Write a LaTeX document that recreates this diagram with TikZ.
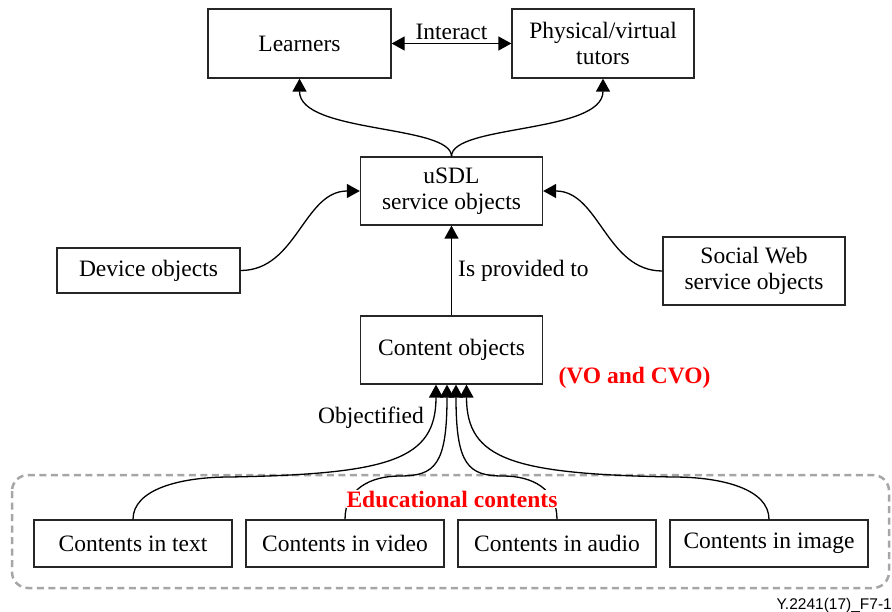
\documentclass[tikz,border=0pt]{standalone}
\usepackage{fontspec}
\setmainfont{Liberation Serif}
\newfontfamily\figsans{Liberation Sans}
\usetikzlibrary{arrows.meta}

\begin{document}
\begin{tikzpicture}[x=1pt,y=-1pt,
  box/.style={draw=black!85,line width=1.3pt,align=center,inner sep=0pt,
    minimum width=182pt,minimum height=68pt,font=\fontsize{23.5}{26}\selectfont},
  wide/.style={minimum width=198pt,minimum height=47pt},
  arr/.style={line width=1.3pt,-{Triangle[length=13pt,width=14pt]}},
  lbl/.style={inner sep=0pt,font=\fontsize{23.5}{26}\selectfont},
  redlbl/.style={inner sep=0pt,text=red,font=\fontsize{23.5}{26}\selectfont\bfseries}]

 \useasboundingbox (0,0) rectangle (892,612);

 % frame round the contents
 \draw[gray!70,line width=2.5pt,dash pattern=on 7pt off 4.5pt,rounded corners=16pt]
   (12,475) rectangle (889,588);

 \node[box,minimum width=183pt,minimum height=69pt] (learners) at (299.5,43.5) {Learners};
 \node[box,minimum height=69pt] (tutors) at (603,43.5) {Physical/virtual\\tutors};
 \node[box] (usdl) at (451.5,191) {uSDL\\service objects};
 \node[box,minimum width=183pt,minimum height=45pt] (device) at (148.5,270.5) {Device objects};
 \node[box] (social) at (754,271) {Social Web\\service objects};
 \node[box] (content) at (451.5,350) {Content objects};

 \node[box,wide] (ctext) at (133,543.5) {Contents in text};
 \node[box,wide] (cvideo) at (345,543.5) {Contents in video};
 \node[box,wide] (caudio) at (557,543.5) {Contents in audio};
 \node[box,wide] (cimage) at (769,543.5) {Contents in image};

 \draw[line width=1.3pt,{Triangle[length=13pt,width=14pt]}-{Triangle[length=13pt,width=14pt]}]
   (learners) -- node[lbl,above=3pt] (interlbl) {Interact} (tutors);
 \draw[arr] (usdl.north) .. controls +(0,-32) and +(0,55) .. (learners.south);
 \draw[arr] (usdl.north) .. controls +(0,-32) and +(0,55) .. (tutors.south);
 \draw[arr] (device.east) to[out=0,in=180] (usdl.west);
 \draw[arr] (social.west) to[out=180,in=0] (usdl.east);
 \draw[arr] (content) -- (usdl);
 \node[lbl,anchor=base west] (provlbl) at (458,277) {Is provided to};

 % contents up to the content objects
 \draw[arr] (ctext.north) .. controls +(0,-30) and +(-50,0) .. (230,477)
   .. controls +(160,-3) and +(0,75) .. ([xshift=-15.5pt]content.south);
 \draw[arr] (cvideo.north) .. controls +(0,-30) and +(-30,0) .. (400,476)
   .. controls +(35,0) and +(0,80) .. ([xshift=-4.5pt]content.south);
 \draw[arr] (caudio.north) .. controls +(0,-30) and +(30,0) .. (503,476)
   .. controls +(-35,0) and +(0,80) .. ([xshift=4.5pt]content.south);
 \draw[arr] (cimage.north) .. controls +(0,-30) and +(50,0) .. (673,477)
   .. controls +(-160,-3) and +(0,75) .. ([xshift=15pt]content.south);

 \node[lbl,anchor=base] (objlbl) at (371,423) {Objectified};
 \node[redlbl,anchor=base] (volbl) at (634.5,384) {(VO and CVO)};
 \node[redlbl,anchor=base,fill=white,inner sep=1pt] (edulbl) at (452,507) {Educational contents};

 \node[anchor=base east,inner sep=0pt,font=\figsans\fontsize{15.5}{18}\selectfont] (figid)
   at (892,609) {Y.2241(17)\_F7-1};
\end{tikzpicture}
\end{document}
